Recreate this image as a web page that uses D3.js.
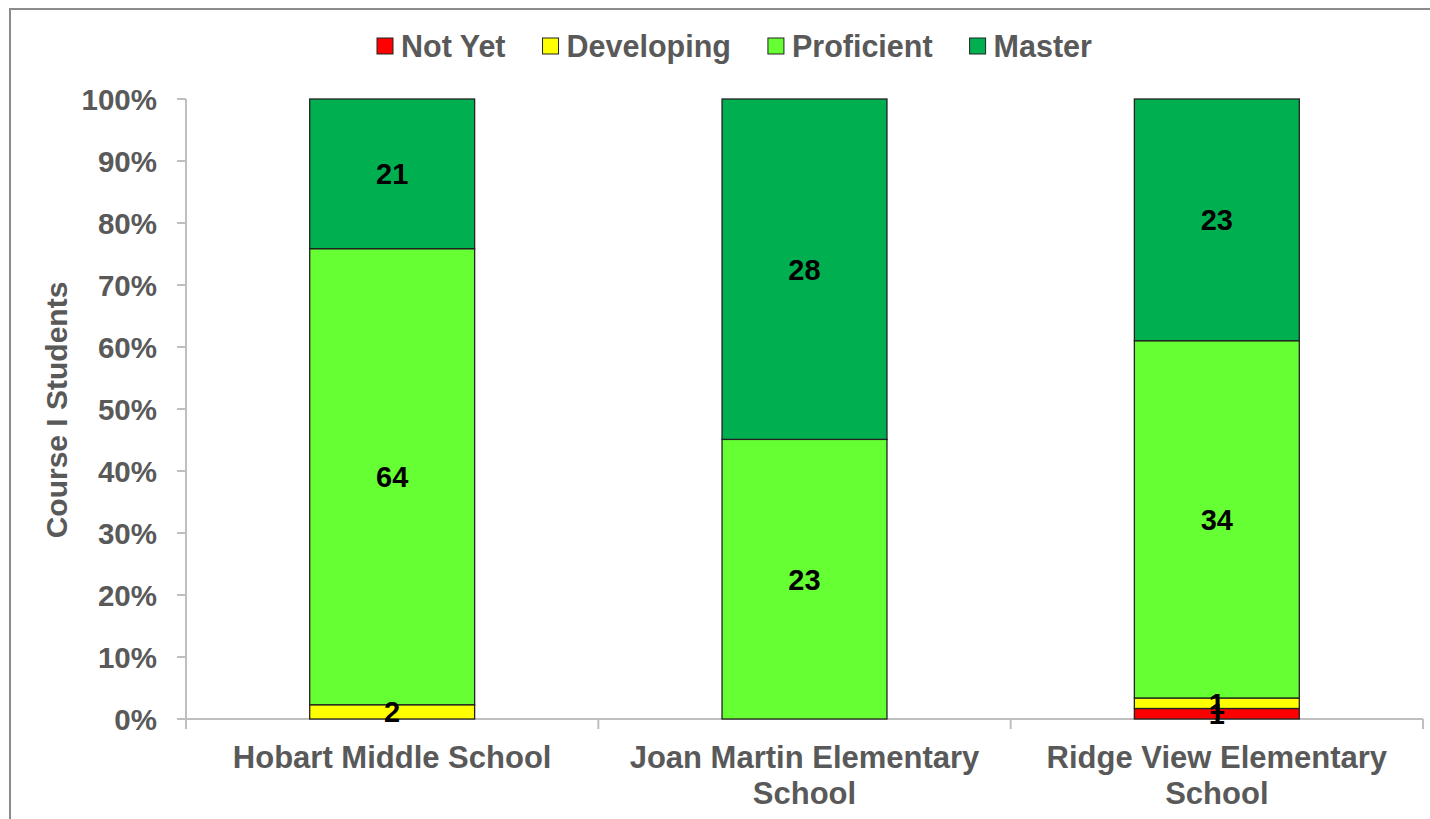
<!DOCTYPE html>
<html><head><meta charset="utf-8">
<script src="https://cdn.jsdelivr.net/npm/d3@7"></script>
<style>html,body{margin:0;background:#fff;overflow:hidden;}svg{display:block;font-family:Arial,"Liberation Sans",sans-serif;}</style>
</head><body>
<script>
const categories = [["Hobart Middle School"],["Joan Martin Elementary","School"],["Ridge View Elementary","School"]];
const seriesNames = ["Not Yet","Developing","Proficient","Master"];
const seriesColors = ["#FF0000","#FFFF00","#66FF33","#00B050"];
const notYet = [0,0,1];
const developing = [2,0,1];
const proficient = [64,23,34];
const master = [21,28,23];
const yTicks = [0,0.1,0.2,0.3,0.4,0.5,0.6,0.7,0.8,0.9,1.0];

(function(){
const W=1430,H=819;
const svg=d3.select("body").append("svg").attr("width",W).attr("height",H);
// outer border (top & left visible)
svg.append("line").attr("x1",9).attr("x2",W).attr("y1",9).attr("y2",9).attr("stroke","#8c8c8c").attr("stroke-width",2);
svg.append("line").attr("x1",10).attr("x2",10).attr("y1",8).attr("y2",H).attr("stroke","#8c8c8c").attr("stroke-width",2);

const pL=186,pR=1423,pT=99,pB=719;
const x=d3.scaleBand().domain(d3.range(categories.length)).range([pL,pR]).paddingInner(0.6).paddingOuter(0.3);
const xSep=d3.scaleLinear().domain([0,categories.length]).range([pL,pR]);
const y=d3.scaleLinear().domain([0,1]).range([pB,pT]);

const seriesVals=[notYet,developing,proficient,master];
const table=categories.map((c,i)=>{const o={i};seriesNames.forEach((s,k)=>o[s]=seriesVals[k][i]);return o;});
const totals=table.map(d=>d3.sum(seriesNames,s=>d[s]));
const norm=table.map((d,i)=>{const o={i};seriesNames.forEach(s=>o[s]=d[s]/totals[i]);return o;});
const stack=d3.stack().keys(seriesNames)(norm);

const g=svg.append("g");
g.append("line").attr("x1",pL).attr("x2",pL).attr("y1",pT).attr("y2",pB+10).attr("stroke","#BFBFBF").attr("stroke-width",2);
g.selectAll(".yt").data(yTicks).join("line").attr("x1",pL-9).attr("x2",pL).attr("y1",d=>y(d)).attr("y2",d=>y(d)).attr("stroke","#BFBFBF").attr("stroke-width",2);
g.selectAll(".ytl").data(yTicks).join("text").attr("x",157).attr("y",d=>y(d)).attr("dy","0.36em")
  .attr("text-anchor","end").attr("font-size",29.5).attr("font-weight","bold").attr("fill","#595959")
  .text(d3.format(".0%"));

const bars=svg.append("g");
stack.forEach((layer,k)=>{
  bars.selectAll(null).data(layer).join("rect")
    .attr("x",(d,i)=>x(i)).attr("width",x.bandwidth())
    .attr("y",d=>y(d[1])).attr("height",d=>y(d[0])-y(d[1]))
    .attr("fill",seriesColors[k]).attr("stroke",d=>d[1]-d[0]>0?"#222":"none").attr("stroke-width",1.3);
});
g.append("line").attr("x1",pL).attr("x2",pR).attr("y1",pB).attr("y2",pB).attr("stroke","#BFBFBF").attr("stroke-width",2);
g.selectAll(".xs").data(d3.range(categories.length+1)).join("line").attr("x1",d=>xSep(d)).attr("x2",d=>xSep(d)).attr("y1",pB).attr("y2",pB+10).attr("stroke","#BFBFBF").attr("stroke-width",2);

stack.forEach((layer,k)=>{
  layer.forEach((d,i)=>{
    const v=seriesVals[k][i];
    if(!v) return;
    const cy=(y(d[0])+y(d[1]))/2;
    svg.append("text").attr("x",x(i)+x.bandwidth()/2).attr("y",cy)
      .attr("dy","0.36em").attr("text-anchor","middle").attr("font-size",29).attr("font-weight","bold").attr("fill","#000").text(v);
  });
});

categories.forEach((lines,i)=>{
  const t=svg.append("text").attr("text-anchor","middle").attr("font-size",31).attr("font-weight","bold").attr("fill","#595959");
  lines.forEach((ln,j)=>t.append("tspan").attr("x",x(i)+x.bandwidth()/2).attr("y",768+j*36).text(ln));
});

svg.append("text").attr("transform","translate(67,410) rotate(-90)").attr("text-anchor","middle")
  .attr("font-size",30).attr("font-weight","bold").attr("fill","#595959").text("Course I Students");

const leg=svg.append("g");
let lx=377;
seriesNames.forEach((s,k)=>{
  leg.append("rect").attr("x",lx).attr("y",38).attr("width",16).attr("height",16).attr("fill",seriesColors[k]).attr("stroke","#222").attr("stroke-width",1);
  const t=leg.append("text").attr("x",lx+24).attr("y",46).attr("dy","0.36em")
    .attr("font-size",30.5).attr("font-weight","bold").attr("fill","#595959").text(s);
  lx = lx+24+t.node().getComputedTextLength()+37;
});
})();
</script>
</body></html>
